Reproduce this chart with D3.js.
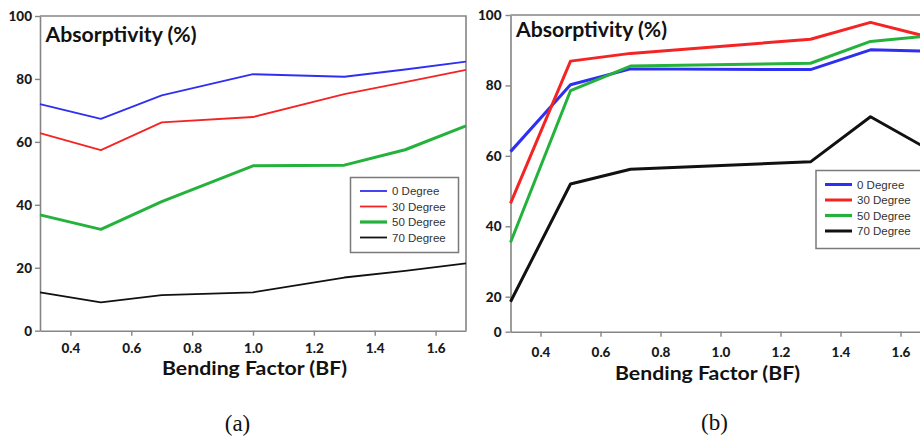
<!DOCTYPE html>
<html>
<head>
<meta charset="utf-8">
<script src="https://cdn.jsdelivr.net/npm/d3@7"></script>
<style>
  body { margin: 0; background: #fff; }
  svg { display: block; }
</style>
</head>
<body>
<svg id="chart" width="920" height="439"></svg>
<script>
// Absorptivity vs. bending factor, four incidence angles, two configurations.
const seriesNames = ["0 Degree", "30 Degree", "50 Degree", "70 Degree"];
const yTicks = [0, 20, 40, 60, 80, 100];
const xTicks = [0.4, 0.6, 0.8, 1.0, 1.2, 1.4, 1.6];
const titleText = "Absorptivity (%)";
const xTitleText = "Bending Factor (BF)";
const captions = ["(a)", "(b)"];

// Panel (a)
const bfA = [0.3, 0.5, 0.7, 1.0, 1.3, 1.5, 1.7];
const a0  = [72.0, 67.3, 74.8, 81.5, 80.7, 83.0, 85.5];
const a30 = [62.8, 57.4, 66.2, 67.9, 75.2, 79.0, 82.9];
const a50 = [36.8, 32.2, 41.0, 52.4, 52.6, 57.5, 65.1];
const a70 = [12.2,  9.0, 11.3, 12.2, 16.9, 19.0, 21.4];

// Panel (b)
const bfB = [0.3, 0.5, 0.7, 1.3, 1.5, 1.7];
const b0  = [61.2, 80.2, 84.7, 84.5, 90.1, 89.7];
const b30 = [46.5, 86.9, 89.1, 93.1, 97.9, 93.6];
const b50 = [35.4, 78.5, 85.5, 86.3, 92.5, 94.1];
const b70 = [17.1, 52.0, 56.2, 58.3, 71.1, 61.5];

const colors = ["#2f2ff2", "#f52424", "#24b23c", "#111111"];
const svg = d3.select("#chart");
svg.append("rect").attr("width", 920).attr("height", 439).attr("fill", "#fff");

const boldFont = "Lato, 'Open Sans', sans-serif";

function drawPanel(cfg) {
  const g = svg.append("g");
  const x = d3.scaleLinear().domain([0.3, 1.7]).range(cfg.xRange);
  const y = d3.scaleLinear().domain(cfg.yDomain).range(cfg.yRange);
  const [x0, x1] = cfg.xRange;
  const yBottom = y(0), yTop = y(100);

  // plot frame (top and right edges)
  g.append("path")
    .attr("d", `M${x0},${yTop}H${x1}V${yBottom}`)
    .attr("fill", "none").attr("stroke", "#858585").attr("stroke-width", 1.6);

  // axes
  const yAxis = g.append("g").attr("transform", `translate(${x0},0)`)
    .call(d3.axisLeft(y).tickValues(yTicks).tickFormat(d3.format("d"))
      .tickSizeInner(5).tickSizeOuter(0).tickPadding(cfg.yPad));
  const xAxis = g.append("g").attr("transform", `translate(0,${yBottom})`)
    .call(d3.axisBottom(x).tickValues(xTicks).tickFormat(d3.format(".1f"))
      .tickSizeInner(5).tickSizeOuter(0).tickPadding(cfg.xPad));
  [yAxis, xAxis].forEach(ax => {
    ax.select(".domain").attr("stroke", "#858585").attr("stroke-width", 1.6);
    ax.selectAll(".tick line").attr("stroke", "#858585").attr("stroke-width", 1.4);
    ax.selectAll(".tick text")
      .attr("font-family", boldFont).attr("font-weight", "900")
      .attr("font-size", 13.5).attr("fill", "#1a1a1a");
  });

  // series lines
  const line = d3.line().x(d => x(d[0])).y(d => y(d[1]));
  cfg.series.forEach((vals, i) => {
    g.append("path")
      .datum(cfg.bf.map((b, j) => [b, vals[j]]))
      .attr("d", line)
      .attr("fill", "none")
      .attr("stroke", colors[i])
      .attr("stroke-width", cfg.widths[i])
      .attr("stroke-linejoin", "round");
  });

  // title inside plot
  g.append("text")
    .attr("x", cfg.title[0]).attr("y", cfg.title[1])
    .attr("font-family", boldFont).attr("font-weight", "bold")
    .attr("font-size", 21).attr("fill", "#111")
    .attr("textLength", 151).attr("lengthAdjust", "spacingAndGlyphs")
    .text(titleText);

  // x axis title
  g.append("text")
    .attr("x", cfg.xTitle[0]).attr("y", cfg.xTitle[1])
    .attr("text-anchor", "middle")
    .attr("font-family", boldFont).attr("font-weight", "bold")
    .attr("font-size", 18.5).attr("fill", "#111")
    .attr("textLength", 185).attr("lengthAdjust", "spacingAndGlyphs")
    .text(xTitleText);

  // legend
  const lg = cfg.legend;
  g.append("rect")
    .attr("x", lg.x).attr("y", lg.y).attr("width", lg.w).attr("height", lg.h)
    .attr("fill", "#fff").attr("stroke", "#7a7a7a").attr("stroke-width", 1.5);
  seriesNames.forEach((name, i) => {
    const ry = lg.row0 + i * 15.5;
    g.append("line")
      .attr("x1", lg.lx).attr("x2", lg.lx + 27)
      .attr("y1", ry).attr("y2", ry)
      .attr("stroke", colors[i]).attr("stroke-width", cfg.legendWidths[i]);
    g.append("text")
      .attr("x", lg.lx + 32).attr("y", ry).attr("dy", "0.36em")
      .attr("font-family", "'Liberation Sans', Arial, sans-serif")
      .attr("font-size", 11.5).attr("fill", "#333")
      .text(name);
  });

  // caption
  g.append("text")
    .attr("x", cfg.caption[0]).attr("y", cfg.caption[1])
    .attr("text-anchor", "middle")
    .attr("font-family", "'Liberation Serif', 'Times New Roman', serif")
    .attr("font-size", 23).attr("fill", "#111")
    .text(cfg.captionText);
}

drawPanel({
  bf: bfA,
  series: [a0, a30, a50, a70],
  widths: [1.8, 1.8, 3, 1.8],
  legendWidths: [1.8, 1.8, 3.2, 1.8],
  xRange: [40, 466],
  yDomain: [0, 100],
  yRange: [330.7, 16],
  yPad: 3, xPad: 8,
  title: [45.5, 41.5],
  xTitle: [254.5, 375],
  legend: { x: 350.5, y: 177.5, w: 108, h: 75, lx: 360, row0: 191 },
  caption: [237.5, 431],
  captionText: captions[0]
});

drawPanel({
  bf: bfB,
  series: [b0, b30, b50, b70],
  widths: [3, 3, 3, 3],
  legendWidths: [3, 3, 3.2, 3],
  xRange: [510.5, 930.5],
  yDomain: [0, 20, 100],
  yRange: [331.7, 296.7, 15],
  yPad: 4, xPad: 10.5,
  title: [516, 37],
  xTitle: [707.5, 379.5],
  legend: { x: 816, y: 170.5, w: 110, h: 78, lx: 825, row0: 184.5 },
  caption: [714.5, 430],
  captionText: captions[1]
});
</script>
</body>
</html>
